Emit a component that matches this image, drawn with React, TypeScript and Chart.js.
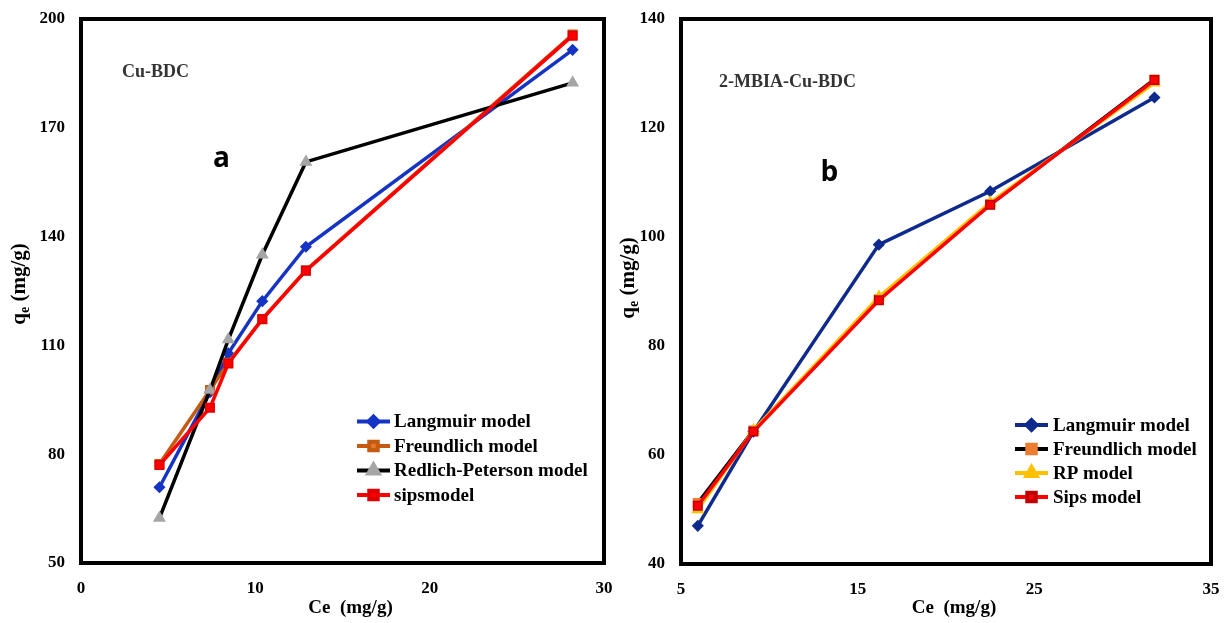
import React, { useEffect, useRef } from 'react';
import { Chart, registerables } from 'chart.js';
import { drawPoint } from 'chart.js/helpers';

Chart.register(...registerables);

// ---------- Data: panel a (Cu-BDC) ----------
const ceA = [4.5, 7.4, 8.45, 10.4, 12.9, 28.2];
const langmuirA = [70.9, 97.1, 107.8, 122.2, 137.2, 191.5];
const freundlichA = [77.3, 97.7, 105.2, 117.3, 130.7, 195.7];
const rpA = [62.4, 97.7, 111.6, 135.0, 160.6, 182.4];
const sipsA = [77.0, 92.8, 105.0, 117.2, 130.6, 195.4];
const seriesNamesA = ['Langmuir model', 'Freundlich model', 'Redlich-Peterson model', 'sipsmodel'];
const yTicksA = [50, 80, 110, 140, 170, 200];
const xTicksA = [0, 10, 20, 30];

// ---------- Data: panel b (2-MBIA-Cu-BDC) ----------
const ceB = [5.95, 9.1, 16.2, 22.5, 31.8];
const langmuirB = [47.0, 64.3, 98.6, 108.4, 125.6];
const freundlichB = [51.2, 64.5, 88.6, 106.0, 128.9];
const rpB = [50.0, 64.5, 89.0, 106.3, 128.3];
const sipsB = [50.7, 64.3, 88.4, 105.9, 128.8];
const seriesNamesB = ['Langmuir model', 'Freundlich model', 'RP model', 'Sips model'];
const yTicksB = [40, 60, 80, 100, 120, 140];
const xTicksB = [5, 15, 25, 35];

const xTitle = 'Ce  (mg/g)';
const SERIF = '"Liberation Serif", "Times New Roman", serif';

const pts = (xs: number[], ys: number[]) => xs.map((x, i) => ({ x, y: ys[i] }));

const decorPlugin = {
  id: 'decor',
  afterDraw(chart: any, _args: any, opts: any) {
    const { ctx, chartArea } = chart;
    const xs = chart.scales.x;
    const ys = chart.scales.y;
    ctx.save();
    // frame
    ctx.strokeStyle = '#000';
    ctx.lineWidth = 4;
    ctx.strokeRect(chartArea.left, chartArea.top, chartArea.right - chartArea.left, chartArea.bottom - chartArea.top);

    // annotations
    (opts.notes || []).forEach((n: any) => {
      ctx.font = n.font;
      ctx.fillStyle = n.color;
      ctx.textAlign = n.align || 'left';
      ctx.textBaseline = 'middle';
      ctx.fillText(n.text, xs.getPixelForValue(n.x), ys.getPixelForValue(n.y));
    });

    // x title
    ctx.font = `bold 19px ${SERIF}`;
    ctx.fillStyle = '#000';
    ctx.textAlign = 'center';
    ctx.textBaseline = 'middle';
    ctx.fillText(opts.xTitle, (chartArea.left + chartArea.right) / 2 + opts.xTitleDx, opts.xTitleY);

    // y title with subscript
    ctx.save();
    ctx.translate(opts.yTitleX, opts.yTitleY);
    ctx.rotate(-Math.PI / 2);
    const bigF = `bold 21px ${SERIF}`;
    const subF = `bold 14px ${SERIF}`;
    ctx.font = bigF;
    const wq = ctx.measureText('q').width;
    const wr = ctx.measureText(' (mg/g)').width;
    ctx.font = subF;
    const we = ctx.measureText('e').width;
    const total = wq + we + wr;
    let cx = -total / 2;
    ctx.textAlign = 'left';
    ctx.textBaseline = 'alphabetic';
    ctx.font = bigF;
    ctx.fillText('q', cx, 6);
    cx += wq;
    ctx.font = subF;
    ctx.fillText('e', cx, 10);
    cx += we;
    ctx.font = bigF;
    ctx.fillText(' (mg/g)', cx, 6);
    ctx.restore();

    // legend
    const lg = opts.legend;
    chart.data.datasets.forEach((ds: any, i: number) => {
      const y = lg.y + i * lg.spacing;
      ctx.strokeStyle = ds.borderColor;
      ctx.lineWidth = 4;
      ctx.beginPath();
      ctx.moveTo(lg.x, y);
      ctx.lineTo(lg.x + lg.len, y);
      ctx.stroke();
      ctx.fillStyle = ds.pointBackgroundColor;
      ctx.strokeStyle = ds.pointBorderColor;
      drawPoint(ctx, { pointStyle: ds.pointStyle, radius: ds.pointRadius, rotation: 0, borderWidth: ds.pointBorderWidth }, lg.x + lg.len / 2, y);
      ctx.font = `bold 19px ${SERIF}`;
      ctx.fillStyle = '#000';
      ctx.textAlign = 'left';
      ctx.textBaseline = 'middle';
      ctx.fillText(ds.label, lg.x + lg.len + lg.gap, y + 1);
    });
    ctx.restore();
  },
};

function ds(label: string, data: any[], line: string, fill: string, border: string, style: string, radius: number, order: number) {
  return {
    label,
    data,
    showLine: true,
    borderColor: line,
    borderWidth: 3.5,
    pointStyle: style,
    pointRadius: radius,
    pointBackgroundColor: fill,
    pointBorderColor: border,
    pointBorderWidth: 1.5,
    order,
  };
}

const zeroPad = (s: any) => {
  s.paddingTop = 0;
  s.paddingBottom = 0;
  s.paddingLeft = 0;
  s.paddingRight = 0;
};

function makeConfig(p: any) {
  return {
    type: 'scatter',
    data: { datasets: p.datasets },
    options: {
      animation: false,
      responsive: false,
      events: [],
      layout: { padding: { top: 19, right: p.padRight, left: 0, bottom: 0 } },
      plugins: {
        legend: { display: false },
        tooltip: { enabled: false },
        decor: p.decor,
      },
      scales: {
        x: {
          type: 'linear',
          min: p.xTicks[0],
          max: p.xTicks[p.xTicks.length - 1],
          afterBuildTicks: (s: any) => { s.ticks = p.xTicks.map((v: number) => ({ value: v })); },
          afterFit: (s: any) => { s.height = p.xHeight; zeroPad(s); },
          grid: { display: false, drawTicks: false },
          border: { display: false },
          ticks: { padding: 15, color: '#000', font: { family: SERIF, size: 17, weight: 'bold' } },
        },
        y: {
          type: 'linear',
          min: p.yTicks[0],
          max: p.yTicks[p.yTicks.length - 1],
          afterBuildTicks: (s: any) => { s.ticks = p.yTicks.map((v: number) => ({ value: v })); },
          afterFit: (s: any) => { s.width = p.yWidth; zeroPad(s); },
          grid: { display: false, drawTicks: false },
          border: { display: false },
          ticks: { padding: 16, color: '#000', font: { family: SERIF, size: 17, weight: 'bold' } },
        },
      },
    },
    plugins: [decorPlugin],
  };
}

const configA = () =>
  makeConfig({
    xTicks: xTicksA,
    yTicks: yTicksA,
    padRight: 11,
    xHeight: 60,
    yWidth: 81,
    datasets: [
      ds(seriesNamesA[0], pts(ceA, langmuirA), '#1634C4', '#1634C4', '#1634C4', 'rectRot', 5, 4),
      ds(seriesNamesA[1], pts(ceA, freundlichA), '#C55A11', '#E8792A', '#C55A11', 'rect', 6, 3),
      ds(seriesNamesA[2], pts(ceA, rpA), '#000000', '#A5A5A5', '#A5A5A5', 'triangle', 6, 2),
      ds(seriesNamesA[3], pts(ceA, sipsA), '#FF0000', '#FF0000', '#E00000', 'rect', 6, 1),
    ],
    decor: {
      xTitle,
      xTitleDx: 8,
      xTitleY: 608,
      yTitleX: 19,
      yTitleY: 284,
      notes: [
        { text: 'Cu-BDC', x: 2.35, y: 185.2, font: `bold 18px ${SERIF}`, color: '#333' },
        { text: 'a', x: 8.05, y: 161.5, font: 'bold 28px "Open Sans", "Liberation Sans", sans-serif', color: '#000', align: 'center' },
      ],
      legend: { x: 357, y: 421.5, spacing: 24.5, len: 33, gap: 4 },
    },
  });

const configB = () =>
  makeConfig({
    xTicks: xTicksB,
    yTicks: yTicksB,
    padRight: 20,
    xHeight: 59,
    yWidth: 66,
    datasets: [
      ds(seriesNamesB[0], pts(ceB, langmuirB), '#0E2A8C', '#0E2A8C', '#0E2A8C', 'rectRot', 5, 4),
      ds(seriesNamesB[1], pts(ceB, freundlichB), '#000000', '#ED7D31', '#ED7D31', 'rect', 6, 3),
      ds(seriesNamesB[2], pts(ceB, rpB), '#FFC000', '#FFC000', '#FFC000', 'triangle', 6, 2),
      ds(seriesNamesB[3], pts(ceB, sipsB), '#FF0000', '#FF0000', '#C00000', 'rect', 6, 1),
    ],
    decor: {
      xTitle,
      xTitleDx: 8,
      xTitleY: 608,
      yTitleX: 13,
      yTitleY: 278,
      notes: [
        { text: '2-MBIA-Cu-BDC', x: 7.15, y: 128.4, font: `bold 18px ${SERIF}`, color: '#333' },
        { text: 'b', x: 13.4, y: 111.7, font: 'bold 28px "Open Sans", "Liberation Sans", sans-serif', color: '#000', align: 'center' },
      ],
      legend: { x: 400, y: 425, spacing: 24, len: 33, gap: 5 },
    },
  });

function ChartCanvas({ make, left, width }: { make: () => any; left: number; width: number }) {
  const ref = useRef<HTMLCanvasElement>(null);
  useEffect(() => {
    const chart = new Chart(ref.current as HTMLCanvasElement, make());
    return () => chart.destroy();
  }, []);
  return (
    <canvas
      ref={ref}
      width={width}
      height={623}
      style={{ position: 'absolute', left, top: 0, width, height: 623 }}
    />
  );
}

export default function App() {
  return (
    <div style={{ position: 'absolute', left: 0, top: 0, width: 1231, height: 623, background: '#fff', overflow: 'hidden' }}>
      <ChartCanvas make={configA} left={0} width={615} />
      <ChartCanvas make={configB} left={615} width={616} />
    </div>
  );
}
